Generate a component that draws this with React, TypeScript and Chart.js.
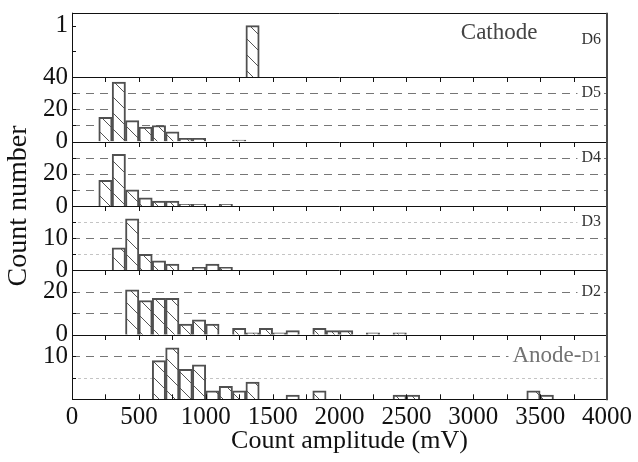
import React, { useEffect, useRef } from 'react';
import { Chart, registerables } from 'chart.js';

Chart.register(...registerables);

// ---- data (bin start in mV, counts) ----
const BIN_WIDTH = 100;
const X_MIN = 0;
const X_MAX = 4000;
const X_TICK_STEP = 500;

const d1Bins = [600, 700, 800, 900, 1000, 1100, 1200, 1300, 1600, 1800, 2400, 2500, 3400, 3500];
const d1Counts = [9, 12, 7, 8, 2, 3, 2, 4, 1, 2, 1, 1, 2, 1];

const d2Bins = [400, 500, 600, 700, 800, 900, 1000, 1200, 1300, 1400, 1500, 1600, 1800, 1900, 2000, 2200, 2400];
const d2Counts = [21, 16, 17, 17, 5, 7, 5, 3, 1, 3, 1, 2, 3, 2, 2, 1, 1];

const d3Bins = [300, 400, 500, 600, 700, 900, 1000, 1100];
const d3Counts = [7, 16, 5, 3, 2, 1, 2, 1];

const d4Bins = [200, 300, 400, 500, 600, 700, 800, 900, 1100];
const d4Counts = [16, 32, 10, 5, 3, 3, 1, 1, 1];

const d5Bins = [200, 300, 400, 500, 600, 700, 800, 900, 1200];
const d5Counts = [15, 37, 13, 9, 10, 6, 2, 2, 1];

const d6Bins = [1300];
const d6Counts = [1];

// panels listed bottom (D1) to top (D6)
const panelNames = ['D1', 'D2', 'D3', 'D4', 'D5', 'D6'];
const panelBins = [d1Bins, d2Bins, d3Bins, d4Bins, d5Bins, d6Bins];
const panelCounts = [d1Counts, d2Counts, d3Counts, d4Counts, d5Counts, d6Counts];
const yMaxes = [15, 30, 20, 40, 40, 1.25];
const yTickSteps = [5, 10, 5, 10, 10, 0.5];
const yLabelValues = [[10], [0, 20], [0, 10], [0, 20], [0, 20, 40], [1]];
const dashedGrid = [[10], [10, 20], [10], [10, 20, 30], [10, 20, 30], []];
const dottedGrid = [[5], [], [5, 15], [], [], []];
const labelAnchors = [10, 20, 15, 30, 30, 0.72];
const panelTitles = ['Anode-', '', '', '', '', 'Cathode'];
const titleAnchors = [10, 0, 0, 0, 0, 0.86];

const yTitle = 'Count number';
const xTitle = 'Count amplitude (mV)';

const SERIF = '"Liberation Serif", "Times New Roman", serif';
const axisId = (i: number) => 'y' + panelNames[i];

function makeHatch(ctx: CanvasRenderingContext2D) {
  const s = 16;
  const c = document.createElement('canvas');
  c.width = s;
  c.height = s;
  const g = c.getContext('2d')!;
  g.fillStyle = '#ffffff';
  g.fillRect(0, 0, s, s);
  g.strokeStyle = '#555555';
  g.lineWidth = 1;
  g.beginPath();
  g.moveTo(-2, -2);
  g.lineTo(s + 2, s + 2);
  g.stroke();
  return ctx.createPattern(c, 'repeat');
}

function hLine(ctx: CanvasRenderingContext2D, x1: number, x2: number, y: number, color: string, width: number, dash: number[]) {
  ctx.beginPath();
  ctx.setLineDash(dash);
  ctx.strokeStyle = color;
  ctx.lineWidth = width;
  ctx.moveTo(x1, y);
  ctx.lineTo(x2, y);
  ctx.stroke();
}

const panelsPlugin = {
  id: 'panels',
  beforeDatasetsDraw(chart: any) {
    const { ctx, chartArea } = chart;
    const { left, right } = chartArea;
    ctx.save();
    for (let i = 0; i < panelNames.length; i++) {
      const ys = chart.scales[axisId(i)];
      for (const v of dottedGrid[i]) {
        const y = Math.round(ys.getPixelForValue(v)) + 0.5;
        hLine(ctx, left, right, y, '#c4c4c4', 1, [3, 3]);
      }
      for (const v of dashedGrid[i]) {
        const y = Math.round(ys.getPixelForValue(v)) + 0.5;
        hLine(ctx, left, right, y, '#767676', 1, [8, 6]);
      }
    }
    ctx.restore();
  },
  afterDatasetsDraw(chart: any) {
    const { ctx, chartArea } = chart;
    const { left, right, top, bottom } = chartArea;
    const xs = chart.scales.x;
    ctx.save();

    // panel labels with white boxes
    for (let i = 0; i < panelNames.length; i++) {
      const ys = chart.scales[axisId(i)];
      const name = panelNames[i];
      const title = panelTitles[i];
      const yName = ys.getPixelForValue(labelAnchors[i]);
      const xRight = right - 6;
      ctx.font = '16px ' + SERIF;
      const wName = ctx.measureText(name).width;
      let boxLeft = xRight - wName;
      let wTitle = 0;
      if (title) {
        ctx.font = '23px ' + SERIF;
        wTitle = ctx.measureText(title).width;
      }
      const isCathode = i === panelNames.length - 1;
      const titleRight = isCathode ? xRight - wName - 44 : xRight - wName;
      if (title && !isCathode) boxLeft = titleRight - wTitle;
      ctx.setLineDash([]);
      ctx.fillStyle = '#ffffff';
      ctx.fillRect(boxLeft - 4, yName - 10, xRight + 2 - (boxLeft - 4), 20);

      const grey = i === 0 ? '#737373' : '#333333';
      ctx.textAlign = 'right';
      if (i === 0) {
        ctx.textBaseline = 'alphabetic';
        ctx.fillStyle = grey;
        ctx.font = '16px ' + SERIF;
        ctx.fillText(name, xRight, yName + 6);
        ctx.font = '23px ' + SERIF;
        ctx.fillText(title, titleRight, yName + 6);
      } else {
        ctx.textBaseline = 'middle';
        ctx.fillStyle = grey;
        ctx.font = '16px ' + SERIF;
        ctx.fillText(name, xRight, yName);
        if (title) {
          ctx.fillStyle = '#444444';
          ctx.font = '23px ' + SERIF;
          ctx.fillText(title, titleRight, ys.getPixelForValue(titleAnchors[i]));
        }
      }
    }

    // x tick marks at each panel boundary (major + minor)
    const tv = xs.ticks.map((t: any) => t.value);
    const xVals: number[] = [];
    for (let k = 0; k < tv.length; k++) {
      xVals.push(tv[k]);
      if (k < tv.length - 1) xVals.push((tv[k] + tv[k + 1]) / 2);
    }
    ctx.setLineDash([]);
    ctx.strokeStyle = '#111111';
    ctx.lineWidth = 1;
    for (let i = 0; i < panelNames.length - 1; i++) {
      const ys = chart.scales[axisId(i)];
      const yTop = Math.round(ys.top);
      ctx.beginPath();
      for (const v of xVals) {
        const x = Math.round(xs.getPixelForValue(v)) + 0.5;
        ctx.moveTo(x, yTop);
        ctx.lineTo(x, yTop + 5);
        if (i === 0) {
          ctx.moveTo(x, bottom);
          ctx.lineTo(x, bottom - 5);
        }
      }
      ctx.stroke();
    }

    // y tick marks (inward)
    for (let i = 0; i < panelNames.length; i++) {
      const ys = chart.scales[axisId(i)];
      ctx.beginPath();
      for (const t of ys.ticks) {
        if (t.value <= 0 || t.value >= yMaxes[i]) continue;
        const y = Math.round(ys.getPixelForValue(t.value)) + 0.5;
        ctx.moveTo(left, y);
        ctx.lineTo(left + 4, y);
      }
      ctx.stroke();
    }

    // panel separators and frame
    for (let i = 0; i < panelNames.length; i++) {
      const ys = chart.scales[axisId(i)];
      const yb = Math.round(ys.bottom) + 0.5;
      hLine(ctx, left, right, yb, '#111111', 1, []);
    }
    hLine(ctx, left, right, Math.round(top) + 0.5, '#111111', 1, []);
    ctx.beginPath();
    ctx.strokeStyle = '#111111';
    ctx.lineWidth = 1;
    ctx.moveTo(Math.round(left) + 0.5, top);
    ctx.lineTo(Math.round(left) + 0.5, bottom + 0.5);
    ctx.stroke();
    ctx.beginPath();
    ctx.strokeStyle = '#4a4a4a';
    ctx.lineWidth = 2;
    ctx.moveTo(Math.round(right), top);
    ctx.lineTo(Math.round(right), bottom + 1);
    ctx.stroke();

    // axis titles
    ctx.fillStyle = '#111111';
    ctx.textAlign = 'center';
    ctx.textBaseline = 'middle';
    ctx.font = '26px ' + SERIF;
    ctx.fillText(xTitle, (left + right) / 2 + 10, 441);
    ctx.save();
    ctx.translate(19, (top + bottom) / 2);
    ctx.rotate(-Math.PI / 2);
    ctx.font = '28px ' + SERIF;
    ctx.fillText(yTitle, 0, 0);
    ctx.restore();

    ctx.restore();
  },
};

export default function App() {
  const ref = useRef<HTMLCanvasElement | null>(null);

  useEffect(() => {
    const canvas = ref.current;
    if (!canvas) return;
    const ctx2d = canvas.getContext('2d')!;
    const hatch = makeHatch(ctx2d);

    const datasets = panelNames.map((name, i) => ({
      label: name,
      type: 'bar' as const,
      data: panelBins[i].map((b, k) => ({ x: b + BIN_WIDTH / 2, y: panelCounts[i][k] })),
      yAxisID: axisId(i),
      xAxisID: 'x',
      stack: 'all',
      backgroundColor: hatch as any,
      borderColor: '#505050',
      borderWidth: 2,
      borderSkipped: 'start' as const,
      barPercentage: 1,
      categoryPercentage: 1,
    }));

    const scales: any = {
      x: {
        type: 'linear',
        min: X_MIN,
        max: X_MAX,
        offset: false,
        position: 'bottom',
        grid: { display: false, drawTicks: false, offset: false },
        border: { display: false },
        ticks: {
          stepSize: X_TICK_STEP,
          autoSkip: false,
          maxRotation: 0,
          minRotation: 0,
          padding: 3,
          color: '#111111',
          font: { family: SERIF, size: 25 },
          callback: (v: any) => String(v),
        },
        afterFit: (s: any) => {
          s.height = 62.7;
          s.paddingLeft = 0;
          s.paddingRight = 0;
        },
      },
    };
    panelNames.forEach((name, i) => {
      scales[axisId(i)] = {
        type: 'linear',
        position: 'left',
        stack: 'panels',
        stackWeight: 1,
        weight: i + 1,
        min: 0,
        max: yMaxes[i],
        grid: { display: false, drawTicks: false },
        border: { display: false },
        ticks: {
          stepSize: yTickSteps[i],
          includeBounds: false,
          autoSkip: false,
          padding: 4,
          color: '#111111',
          font: { family: SERIF, size: 25 },
          callback: (v: any) => (yLabelValues[i].includes(Number(v)) ? String(v) : ''),
        },
        afterFit: (s: any) => {
          s.width = 72;
          s.paddingTop = 0;
          s.paddingBottom = 0;
        },
      };
    });

    const chart = new Chart(canvas, {
      type: 'bar',
      data: { datasets: datasets as any },
      options: {
        responsive: false,
        animation: false,
        devicePixelRatio: 1,
        layout: { padding: { top: 12.7, right: 31, left: 0, bottom: 0 } },
        plugins: { legend: { display: false }, tooltip: { enabled: false } },
        scales,
      },
      plugins: [panelsPlugin],
    });
    return () => chart.destroy();
  }, []);

  return (
    <div style={{ position: 'fixed', left: 0, top: 0, width: 638, height: 462, background: '#ffffff' }}>
      <canvas ref={ref} width={638} height={462} style={{ display: 'block' }} />
    </div>
  );
}
